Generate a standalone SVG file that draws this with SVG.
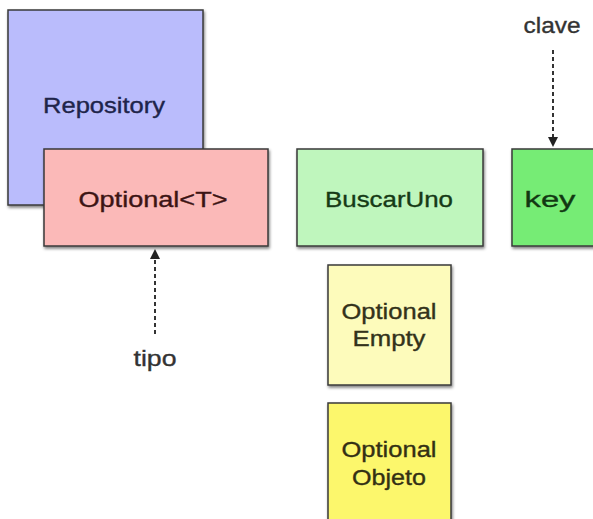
<svg xmlns="http://www.w3.org/2000/svg" width="593" height="519" viewBox="0 0 593 519">
  <defs>
    <filter id="shadow" x="-10%" y="-10%" width="130%" height="130%">
      <feGaussianBlur in="SourceAlpha" stdDeviation="1.5"/>
      <feOffset dx="1" dy="2" result="b"/>
      <feComponentTransfer><feFuncA type="linear" slope="0.5"/></feComponentTransfer>
      <feMerge><feMergeNode/><feMergeNode in="SourceGraphic"/></feMerge>
    </filter>
    <marker id="arrow" viewBox="0 0 10 10" refX="9" refY="5" markerWidth="5" markerHeight="5" orient="auto">
      <path d="M0,0 L10,5 L0,10 z" fill="#222"/>
    </marker>
  </defs>
  <style>
    .box { stroke: #3a3a3a; stroke-width: 1.5; filter: url(#shadow); }
    .lbl { font-family: "Liberation Sans", Arial, sans-serif; font-size: 22px; text-anchor: middle; stroke-width: 0.35; }
    .conn { stroke: #333; stroke-width: 2; stroke-dasharray: 4 3; fill: none; }
  </style>
  <rect width="593" height="519" fill="#fff"/>

  <g id="repository">
    <rect class="box" x="8" y="10" width="195" height="195" fill="#babcfc"/>
    <text class="lbl" x="104" y="113" fill="#20244a" stroke="#20244a" textLength="122" lengthAdjust="spacingAndGlyphs">Repository</text>
  </g>

  <g id="optional-t">
    <rect class="box" x="44" y="149" width="224" height="97" fill="#fbb9b8"/>
    <text class="lbl" x="153" y="207" fill="#3c1414" stroke="#3c1414" textLength="149" lengthAdjust="spacingAndGlyphs">Optional&lt;T&gt;</text>
  </g>

  <g id="buscar-uno">
    <rect class="box" x="297" y="149" width="186" height="97" fill="#bff6bd"/>
    <text class="lbl" x="389" y="207" fill="#163a16" stroke="#163a16" textLength="128" lengthAdjust="spacingAndGlyphs">BuscarUno</text>
  </g>

  <g id="key">
    <rect class="box" x="512" y="149" width="95" height="97" fill="#76ec75"/>
    <text class="lbl" x="550" y="207" fill="#123812" stroke="#123812" textLength="51" lengthAdjust="spacingAndGlyphs">key</text>
  </g>

  <g id="optional-empty">
    <rect class="box" x="328" y="265" width="123" height="120" fill="#fdfbbb"/>
    <text class="lbl" x="389" y="319" fill="#33321a" stroke="#33321a" textLength="95" lengthAdjust="spacingAndGlyphs">Optional</text>
    <text class="lbl" x="389" y="346" fill="#33321a" stroke="#33321a" textLength="73" lengthAdjust="spacingAndGlyphs">Empty</text>
  </g>

  <g id="optional-objeto">
    <rect class="box" x="328" y="403" width="123" height="130" fill="#fcf76c"/>
    <text class="lbl" x="389" y="457" fill="#333014" stroke="#333014" textLength="95" lengthAdjust="spacingAndGlyphs">Optional</text>
    <text class="lbl" x="389" y="485" fill="#333014" stroke="#333014" textLength="74" lengthAdjust="spacingAndGlyphs">Objeto</text>
  </g>

  <g id="labels">
    <text class="lbl" x="552" y="33" fill="#333" stroke="#333" textLength="57" lengthAdjust="spacingAndGlyphs">clave</text>
    <text class="lbl" x="155" y="366" fill="#333" stroke="#333" textLength="43" lengthAdjust="spacingAndGlyphs">tipo</text>
  </g>

  <g id="connectors">
    <line class="conn" x1="553" y1="50" x2="553" y2="146" marker-end="url(#arrow)"/>
    <line class="conn" x1="155" y1="334" x2="155" y2="250" marker-end="url(#arrow)"/>
  </g>
</svg>
